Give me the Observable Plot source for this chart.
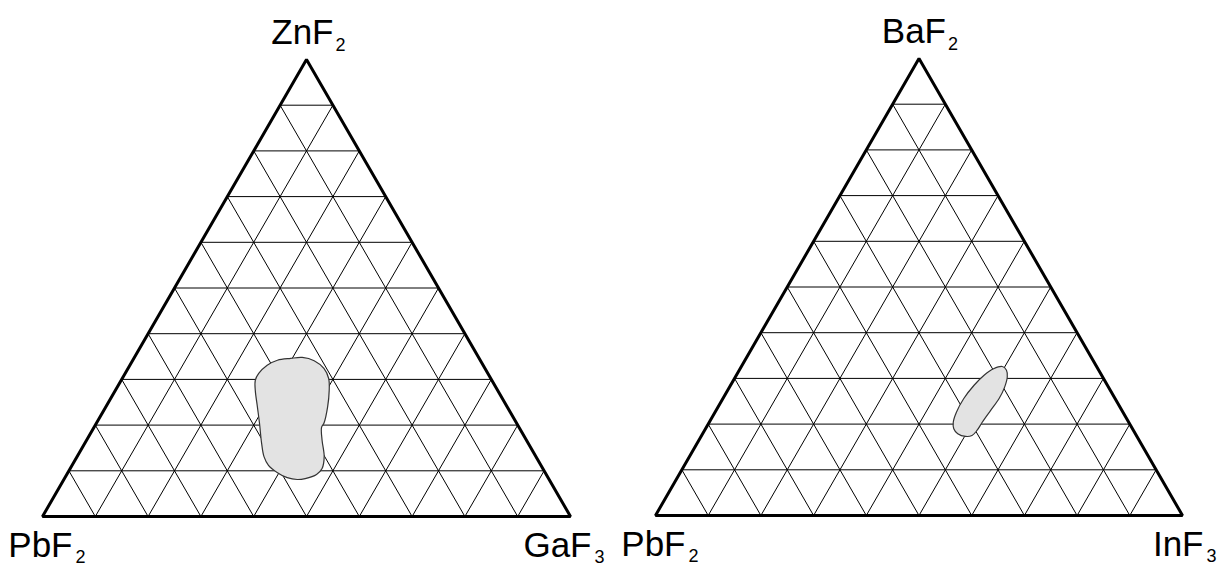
<!DOCTYPE html>
<html>
<head>
<meta charset="utf-8">
<script src="https://cdn.jsdelivr.net/npm/d3@7"></script>
<script src="https://cdn.jsdelivr.net/npm/@observablehq/plot@0.6"></script>
<style>
  html, body { margin: 0; padding: 0; background: #fff; }
  #figure { display: flex; width: 1217px; height: 567px; }
  #figure svg { display: block; }
</style>
</head>
<body>
<div id="figure"></div>
<script>
// Corner labels (formula and subscript) in the order top, bottom-left, bottom-right
const zpgCorners = ["ZnF", "PbF", "GaF"];
const zpgCornerSubs = ["2", "2", "3"];
const bpiCorners = ["BaF", "PbF", "InF"];
const bpiCornerSubs = ["2", "2", "3"];

// Composition grid every 10 mol%
const gridPercents = [10, 20, 30, 40, 50, 60, 70, 80, 90];

// Glass-forming region, ZnF2–PbF2–GaF3 (mol% ZnF2 and GaF3, PbF2 is the balance)
const zpgGlassZnF2 = [34.6, 34.8, 34.1, 32.4, 30.2, 27.6, 24.0, 20.4, 19.5, 16.7, 13.1, 10.5, 9.2, 8.3, 8.1, 8.5, 9.6, 11.2, 13.1, 16.0, 20.4, 24.0, 27.6, 29.8, 31.3, 33.1, 34.2];
const zpgGlassGaF3 = [29.7, 31.8, 34.4, 37.1, 39.1, 40.5, 42.0, 43.1, 43.1, 44.6, 46.8, 47.7, 47.3, 45.6, 44.2, 42.1, 39.7, 37.2, 35.4, 33.5, 30.9, 28.7, 26.5, 25.4, 25.3, 26.0, 27.4];

// Glass-forming region, BaF2–PbF2–InF3 (mol% BaF2 and InF3, PbF2 is the balance)
const bpiGlassBaF2 = [32.6, 31.8, 30.3, 28.1, 25.6, 23.0, 20.4, 18.6, 17.5, 17.3, 17.9, 19.0, 20.4, 22.6, 25.6, 28.5, 30.7, 32.1];
const bpiGlassInF3 = [49.5, 50.7, 51.6, 52.2, 52.4, 52.1, 51.8, 51.7, 51.3, 50.2, 48.4, 47.1, 46.3, 45.8, 45.7, 46.2, 47.0, 48.1];

const H = Math.sqrt(3) / 2;

// Ternary (top %, right %) -> cartesian position in a unit equilateral triangle
function toXY(top, right) {
  return { x: (right + top / 2) / 100, y: (top / 100) * H };
}

function gridSegments() {
  const segs = [];
  for (const p of gridPercents) {
    const q = 100 - p;
    const lines = [
      [toXY(p, 0), toXY(p, q)],   // constant top component
      [toXY(0, p), toXY(q, p)],   // constant right component
      [toXY(0, q), toXY(q, 0)]    // constant left component
    ];
    for (const [a, b] of lines) segs.push({ x1: a.x, y1: a.y, x2: b.x, y2: b.y });
  }
  return segs;
}

function cornerLabel(vertex, main, sub, o) {
  const font = "Liberation Sans, Arial, Helvetica, sans-serif";
  return [
    Plot.text([vertex], {
      x: "x", y: "y", text: () => main,
      textAnchor: "end", lineAnchor: "bottom",
      dx: o.mdx, dy: o.mdy, fontSize: 35, fontFamily: font, fill: "#000"
    }),
    Plot.text([vertex], {
      x: "x", y: "y", text: () => sub,
      textAnchor: "start", lineAnchor: "bottom",
      dx: o.sdx, dy: o.sdy, fontSize: 18, fontFamily: font, fill: "#000"
    })
  ];
}

function ternaryDiagram({ corners, subs, glassTop, glassRight, width, margins }) {
  const vertices = [toXY(100, 0), toXY(0, 0), toXY(0, 100)];
  const outline = glassTop.map((t, i) => toXY(t, glassRight[i]));
  const offsets = [
    { mdx: 27, mdy: -15.5, sdx: 29, sdy: -8.5 },
    { mdx: 30, mdy: 40, sdx: 33, sdy: 46.5 },
    { mdx: 21, mdy: 40, sdx: 24, sdy: 46.5 }
  ];
  return Plot.plot({
    width,
    height: 567,
    marginLeft: margins[0],
    marginRight: margins[1],
    marginTop: margins[2],
    marginBottom: margins[3],
    x: { domain: [0, 1], axis: null },
    y: { domain: [0, H], axis: null },
    style: { background: "#fff", overflow: "visible" },
    marks: [
      Plot.link(gridSegments(), {
        x1: "x1", y1: "y1", x2: "x2", y2: "y2",
        stroke: "#000", strokeWidth: 1
      }),
      Plot.line(outline, {
        x: "x", y: "y", curve: "catmull-rom-closed",
        fill: "#e3e3e3", stroke: "#333", strokeWidth: 1.2
      }),
      Plot.line(vertices, {
        x: "x", y: "y", curve: "linear-closed",
        stroke: "#000", strokeWidth: 3, strokeLinejoin: "miter"
      }),
      ...vertices.flatMap((v, i) => cornerLabel(v, corners[i], subs[i], offsets[i]))
    ]
  });
}

const fig = document.getElementById("figure");
fig.append(
  ternaryDiagram({
    corners: zpgCorners, subs: zpgCornerSubs,
    glassTop: zpgGlassZnF2, glassRight: zpgGlassGaF3,
    width: 610, margins: [42, 40, 59, 51]
  }),
  ternaryDiagram({
    corners: bpiCorners, subs: bpiCornerSubs,
    glassTop: bpiGlassBaF2, glassRight: bpiGlassInF3,
    width: 607, margins: [45, 35, 58, 52]
  })
);
</script>
</body>
</html>
